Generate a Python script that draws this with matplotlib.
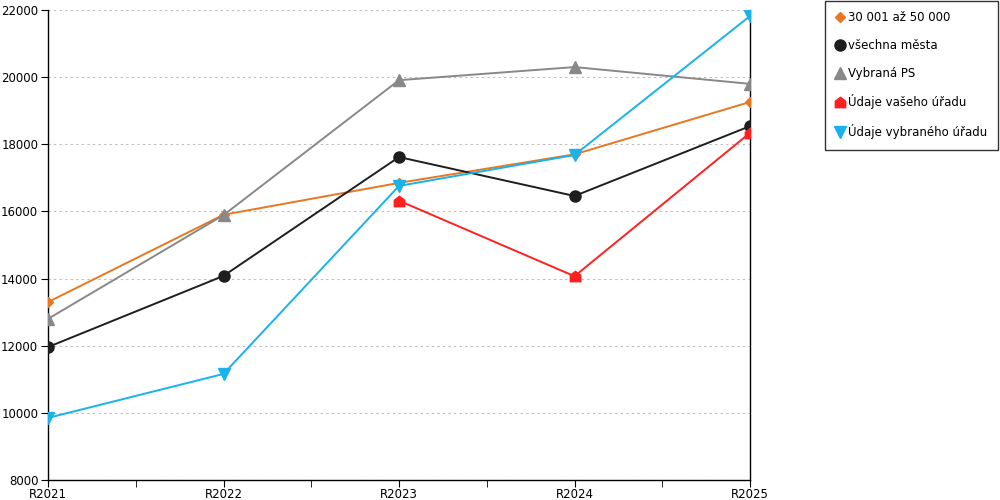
import matplotlib.pyplot as plt
import numpy as np
from matplotlib.path import Path

years = ["R2021", "R2022", "R2023", "R2024", "R2025"]
size_group = [13300, 15900, 16850, 17700, 19260]
all_cities = [11960, 14080, 17620, 16460, 18540]
selected_ps = [12800, 15890, 19910, 20300, 19800]
your_office = [np.nan, np.nan, 16320, 14070, 18340]
selected_office = [9850, 11160, 16760, 17680, 21820]

house = Path([(-1, -1), (1, -1), (1, 0.25), (0, 1), (-1, 0.25), (-1, -1)],
             [Path.MOVETO, Path.LINETO, Path.LINETO, Path.LINETO, Path.LINETO, Path.CLOSEPOLY])

plt.rcParams['font.family'] = ['DejaVu Sans']
fig = plt.figure(figsize=(10, 5), dpi=100)
ax = fig.add_axes([0.048, 0.04, 0.702, 0.94])

x = np.arange(len(years))
ax.plot(x, size_group, color="#e87722", lw=1.4, marker="D", ms=5.5, label="30 001 až 50 000", zorder=3)
ax.plot(x, all_cities, color="#1e1e1e", lw=1.4, marker="o", ms=8, label="všechna města", zorder=3)
ax.plot(x, selected_ps, color="#888888", lw=1.4, marker="^", ms=8.5, label="Vybraná PS", zorder=3)
ax.plot(x, your_office, color="#ff2020", lw=1.4, marker=house, ms=7.5, label="Údaje vašeho úřadu", zorder=3)
ax.plot(x, selected_office, color="#19b2ea", lw=1.4, marker="v", ms=8.5, label="Údaje vybraného úřadu", zorder=3)

ax.set_xlim(0, 4)
ax.set_ylim(8000, 22000)
ax.set_yticks(np.arange(8000, 22001, 2000))
ax.set_xticks(x)
ax.set_xticklabels(years)
ax.set_xticks(x[:-1] + 0.5, minor=True)
ax.tick_params(axis="both", labelsize=8.5, length=5, color="black", pad=2)
ax.tick_params(axis="x", which="minor", length=5)
ax.tick_params(axis="x", pad=1)
ax.yaxis.grid(True, ls=(0, (2, 3)), color="#bbbbbb", lw=0.8)
ax.set_axisbelow(True)
ax.spines["top"].set_visible(False)
for s in ["left", "bottom", "right"]:
    ax.spines[s].set_color("black")
    ax.spines[s].set_linewidth(1)

leg = fig.legend(loc="upper right", bbox_to_anchor=(0.998, 0.999), fontsize=8.5,
                 frameon=True, fancybox=False, edgecolor="black", handlelength=0.7,
                 handletextpad=0.35, labelspacing=1.25, borderpad=0.9, borderaxespad=0)
leg.get_frame().set_linewidth(1)
for h in leg.legend_handles:
    h.set_linestyle("none")

fig.savefig("out.png", dpi=100)
